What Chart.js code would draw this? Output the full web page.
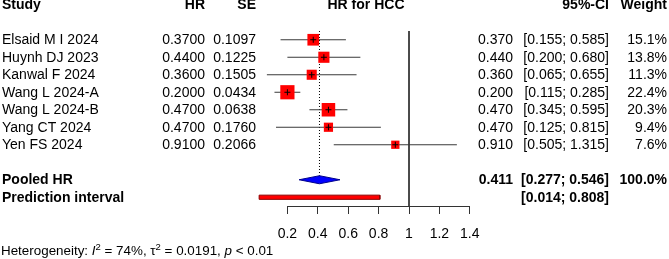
<!DOCTYPE html>
<html>
<head>
<meta charset="utf-8">
<script src="https://cdn.jsdelivr.net/npm/chart.js@4/dist/chart.umd.min.js"></script>
<style>
  html, body { margin: 0; padding: 0; background: #fff; }
  canvas { display: block; }
</style>
</head>
<body>
<canvas id="forest" width="669" height="259"></canvas>
<script>
// dados do forest plot
const studies = ['Elsaid M I 2024', 'Huynh DJ 2023', 'Kanwal F 2024', 'Wang L 2024-A', 'Wang L 2024-B', 'Yang CT 2024', 'Yen FS 2024'];
const hrValues = [0.37, 0.44, 0.36, 0.20, 0.47, 0.47, 0.91];
const seValues = [0.1097, 0.1225, 0.1505, 0.0434, 0.0638, 0.1760, 0.2066];
const ciLower = [0.155, 0.200, 0.065, 0.115, 0.345, 0.125, 0.505];
const ciUpper = [0.585, 0.680, 0.655, 0.285, 0.595, 0.815, 1.315];
const weights = [15.1, 13.8, 11.3, 22.4, 20.3, 9.4, 7.6];
const pooledHR = [0.411, 0.277, 0.546];
const predInterval = [0.014, 0.808];
const xTicks = [0.2, 0.4, 0.6, 0.8, 1, 1.2, 1.4];
const heterogeneity = { i2: '74%', tau2: '0.0191', p: '< 0.01' };

const FONT = '"Liberation Sans", Arial, sans-serif';
const studyRows = studies.map((s, i) => i + 1);
const pooledRow = 9;
const predRow = 10;
const headerRow = -1;

// lado do quadrado proporcional a raiz do peso
const squareRadius = weights.map(w => 3.0 * Math.sqrt(w) / Math.SQRT2);

const ciDatasets = studies.map((s, i) => ({
  data: [{ x: ciLower[i], y: studyRows[i] }, { x: ciUpper[i], y: studyRows[i] }],
  borderColor: '#3a3a3a',
  borderWidth: 1,
  pointRadius: 0,
  order: 5
}));

const diamondH = 0.23;
const barH = 0.12;

const datasets = [
  ...ciDatasets,
  {
    // linha de referencia HR = 1
    data: [{ x: 1, y: 0.5 }, { x: 1, y: 10.5 }],
    borderColor: '#333',
    borderWidth: 1,
    pointRadius: 0,
    order: 6
  },
  {
    // linha pontilhada no HR combinado
    data: [{ x: pooledHR[0], y: 0.5 }, { x: pooledHR[0], y: pooledRow - diamondH }],
    borderColor: '#000',
    borderWidth: 1,
    borderDash: [1, 2],
    pointRadius: 0,
    order: 6
  },
  {
    data: hrValues.map((v, i) => ({ x: v, y: studyRows[i] })),
    showLine: false,
    pointStyle: 'rect',
    pointRadius: squareRadius,
    backgroundColor: '#ff0000',
    borderColor: '#ff0000',
    borderWidth: 0,
    order: 3
  },
  {
    data: hrValues.map((v, i) => ({ x: v, y: studyRows[i] })),
    showLine: false,
    pointStyle: 'cross',
    pointRadius: 3,
    borderColor: '#000',
    borderWidth: 1,
    order: 1
  },
  {
    // diamante do efeito combinado
    data: [
      { x: pooledHR[1], y: pooledRow },
      { x: pooledHR[0], y: pooledRow - diamondH },
      { x: pooledHR[2], y: pooledRow },
      { x: pooledHR[0], y: pooledRow + diamondH },
      { x: pooledHR[1], y: pooledRow }
    ],
    fill: 'shape',
    backgroundColor: '#0000ff',
    borderColor: '#00008b',
    borderWidth: 1,
    pointRadius: 0,
    order: 2
  },
  {
    // intervalo de predicao
    data: [
      { x: predInterval[0], y: predRow - barH },
      { x: predInterval[1], y: predRow - barH },
      { x: predInterval[1], y: predRow + barH },
      { x: predInterval[0], y: predRow + barH },
      { x: predInterval[0], y: predRow - barH }
    ],
    fill: 'shape',
    backgroundColor: '#ff0000',
    borderColor: '#8b0000',
    borderWidth: 1,
    pointRadius: 0,
    order: 2
  }
];

const fmtCI = (lo, hi) => '[' + lo.toFixed(3) + '; ' + hi.toFixed(3) + ']';

const forestText = {
  id: 'forestText',
  afterDraw(chart) {
    const { ctx, chartArea } = chart;
    const xs = chart.scales.x;
    const ys = chart.scales.y;
    const normal = '14px ' + FONT;
    const bold = 'bold 14px ' + FONT;

    // eixo x apenas entre o primeiro e o ultimo tick
    ctx.save();
    ctx.strokeStyle = '#333';
    ctx.lineWidth = 1;
    ctx.beginPath();
    ctx.moveTo(xs.getPixelForValue(xTicks[0]), chartArea.bottom + 0.5);
    ctx.lineTo(xs.getPixelForValue(xTicks[xTicks.length - 1]), chartArea.bottom + 0.5);
    ctx.stroke();

    ctx.fillStyle = '#000';
    ctx.textBaseline = 'middle';

    const put = (txt, x, row, align, font) => {
      ctx.font = font;
      ctx.textAlign = align;
      ctx.fillText(txt, x, ys.getPixelForValue(row) + 0.5);
    };

    // cabecalho
    const hy = headerRow;
    put('Study', 2, hy, 'left', bold);
    put('HR', 205, hy, 'right', bold);
    put('SE', 256, hy, 'right', bold);
    put('HR for HCC', 366, hy, 'center', bold);
    put('95%-CI', 609, hy, 'right', bold);
    put('Weight', 667, hy, 'right', bold);

    studies.forEach((s, i) => {
      const r = studyRows[i];
      put(s, 2, r, 'left', normal);
      put(hrValues[i].toFixed(4), 205, r, 'right', normal);
      put(seValues[i].toFixed(4), 256, r, 'right', normal);
      put(hrValues[i].toFixed(3), 513, r, 'right', normal);
      put(fmtCI(ciLower[i], ciUpper[i]), 609, r, 'right', normal);
      put(weights[i].toFixed(1) + '%', 667, r, 'right', normal);
    });

    put('Pooled HR', 2, pooledRow, 'left', bold);
    put(pooledHR[0].toFixed(3), 513, pooledRow, 'right', bold);
    put(fmtCI(pooledHR[1], pooledHR[2]), 609, pooledRow, 'right', bold);
    put('100.0%', 667, pooledRow, 'right', bold);

    put('Prediction interval', 2, predRow, 'left', bold);
    put(fmtCI(predInterval[0], predInterval[1]), 609, predRow, 'right', bold);

    // heterogeneidade
    const parts = [
      ['Heterogeneity: ', '13.4px ' + FONT, 0],
      ['I', 'italic 13.4px ' + FONT, 0],
      ['2', '9.5px ' + FONT, -5],
      [' = ' + heterogeneity.i2 + ', ', '13.4px ' + FONT, 0],
      ['\u03c4', '13.4px ' + FONT, 0],
      ['2', '9.5px ' + FONT, -5],
      [' = ' + heterogeneity.tau2 + ', ', '13.4px ' + FONT, 0],
      ['p', 'italic 13.4px ' + FONT, 0],
      [' ' + heterogeneity.p, '13.4px ' + FONT, 0]
    ];
    let px = 1;
    const py = 250;
    ctx.textAlign = 'left';
    ctx.textBaseline = 'alphabetic';
    for (const [t, f, dy] of parts) {
      ctx.font = f;
      ctx.fillText(t, px, py + 5 + dy);
      px += ctx.measureText(t).width;
    }
    ctx.restore();
  }
};

new Chart(document.getElementById('forest'), {
  type: 'line',
  data: { datasets },
  options: {
    responsive: false,
    devicePixelRatio: 1,
    animation: false,
    events: [],
    layout: { padding: { left: 257, right: 184, top: 31, bottom: 13 } },
    plugins: { legend: { display: false }, tooltip: { enabled: false } },
    scales: {
      x: {
        type: 'linear',
        min: 0,
        max: 1.5,
        afterBuildTicks: (scale) => { scale.ticks = xTicks.map(v => ({ value: v })); },
        afterFit: (scale) => { scale.height = 40; },
        border: { display: false },
        grid: { drawOnChartArea: false, drawTicks: true, tickLength: 8, color: '#333' },
        ticks: {
          color: '#000',
          padding: 12,
          maxRotation: 0,
          autoSkip: false,
          font: { family: FONT, size: 14 },
          callback: (v) => String(v)
        }
      },
      y: {
        type: 'linear',
        reverse: true,
        min: 0.5,
        max: 10.5,
        display: false
      }
    }
  },
  plugins: [forestText]
});
</script>
</body>
</html>
